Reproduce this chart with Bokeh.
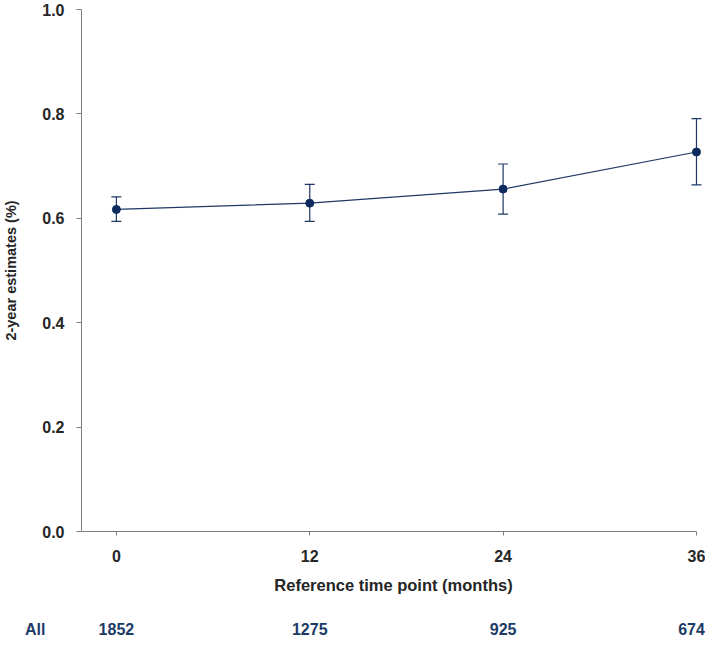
from bokeh.plotting import figure
from bokeh.models import ColumnDataSource, Whisker, TeeHead, FixedTicker, Range1d
from bokeh.layouts import column
from bokeh.core.properties import value
from bokeh.embed import file_html
from bokeh.resources import INLINE

months = [0, 12, 24, 36]
estimate = [0.617, 0.629, 0.656, 0.727]
lower = [0.594, 0.594, 0.608, 0.664]
upper = [0.641, 0.665, 0.704, 0.791]
at_risk = ["1852", "1275", "925", "674"]
group_label = "All"
y_ticks = [0.0, 0.2, 0.4, 0.6, 0.8, 1.0]

FONT = "Liberation Sans"
TEXT = "#262626"
NAVY = "#1f3864"
DOT = "#0d2b5e"
NUM = "#1c3a66"
AXIS = "#7f7f7f"

src = ColumnDataSource(dict(x=months, y=estimate, lo=lower, hi=upper))
xr = Range1d(-2.165, 36.56)

p = figure(width=705, height=600, output_backend="svg", toolbar_location=None,
           x_range=xr, y_range=Range1d(0, 1.0),
           min_border_left=80, min_border_right=0, min_border_top=9,
           min_border_bottom=69)
p.outline_line_color = None
p.grid.grid_line_color = None

p.line("x", "y", source=src, line_color=NAVY, line_width=1.2)
w = Whisker(source=src, base="x", lower="lo", upper="hi", line_color=NAVY, line_width=1.2,
            upper_head=TeeHead(size=10, line_color=NAVY, line_width=1.2),
            lower_head=TeeHead(size=10, line_color=NAVY, line_width=1.2))
p.add_layout(w)
p.scatter("x", "y", source=src, size=8, fill_color=DOT, line_color=DOT)

for ax in (p.xaxis[0], p.yaxis[0]):
    ax.axis_line_color = AXIS
    ax.major_tick_line_color = AXIS
    ax.minor_tick_line_color = None
    ax.major_tick_in = 0
    ax.major_label_text_font = FONT
    ax.major_label_text_font_style = "bold"
    ax.major_label_text_font_size = "16px"
    ax.major_label_text_color = TEXT
    ax.axis_label_text_font = FONT
    ax.axis_label_text_font_style = "bold"
    ax.axis_label_text_color = TEXT

p.xaxis.ticker = FixedTicker(ticks=months)
p.xaxis.bounds = (-2.165, 36)
p.xaxis.major_tick_out = 4
p.xaxis.major_label_standoff = 14
p.xaxis.axis_label = "Reference time point (months)"
p.xaxis.axis_label_text_font_size = "16.5px"
p.xaxis.axis_label_standoff = 11

p.yaxis.ticker = FixedTicker(ticks=y_ticks)
p.yaxis.major_tick_out = 5
p.yaxis.major_label_standoff = 12
p.yaxis.axis_label = "2-year estimates (%)"
p.yaxis.axis_label_text_font_size = "14.5px"
p.yaxis.axis_label_standoff = 20
p.yaxis.major_label_overrides = {t: f"{t:.1f}" for t in y_ticks}

# number-at-risk row (last label nudged left so it stays inside the page)
row_src = ColumnDataSource(dict(x=months, y=[0.5] * len(months), t=at_risk,
                                dx=[0, 0, 0, -5]))
q = figure(width=705, height=37, output_backend="svg", toolbar_location=None,
           x_range=xr, y_range=Range1d(0, 1),
           min_border_left=80, min_border_right=0, min_border_top=20,
           min_border_bottom=0)
q.outline_line_color = None
q.grid.grid_line_color = None
q.xaxis.visible = False
q.yaxis.ticker = FixedTicker(ticks=[0.5])
q.yaxis.major_label_overrides = {0.5: group_label}
q.yaxis.axis_line_color = None
q.yaxis.major_tick_line_color = None
q.yaxis.minor_tick_line_color = None
q.yaxis.major_tick_out = 0
q.yaxis.major_tick_in = 0
q.yaxis.major_label_standoff = 36
q.yaxis.major_label_text_font = FONT
q.yaxis.major_label_text_font_style = "bold"
q.yaxis.major_label_text_font_size = "16px"
q.yaxis.major_label_text_color = NUM
q.text("x", "y", text="t", x_offset="dx", source=row_src, text_align="center",
       text_baseline="middle", text_font=value(FONT), text_font_style="bold",
       text_font_size="16px", text_color=NUM)

layout = column(p, q, spacing=0)
open("out.html", "w").write(file_html(layout, INLINE))
